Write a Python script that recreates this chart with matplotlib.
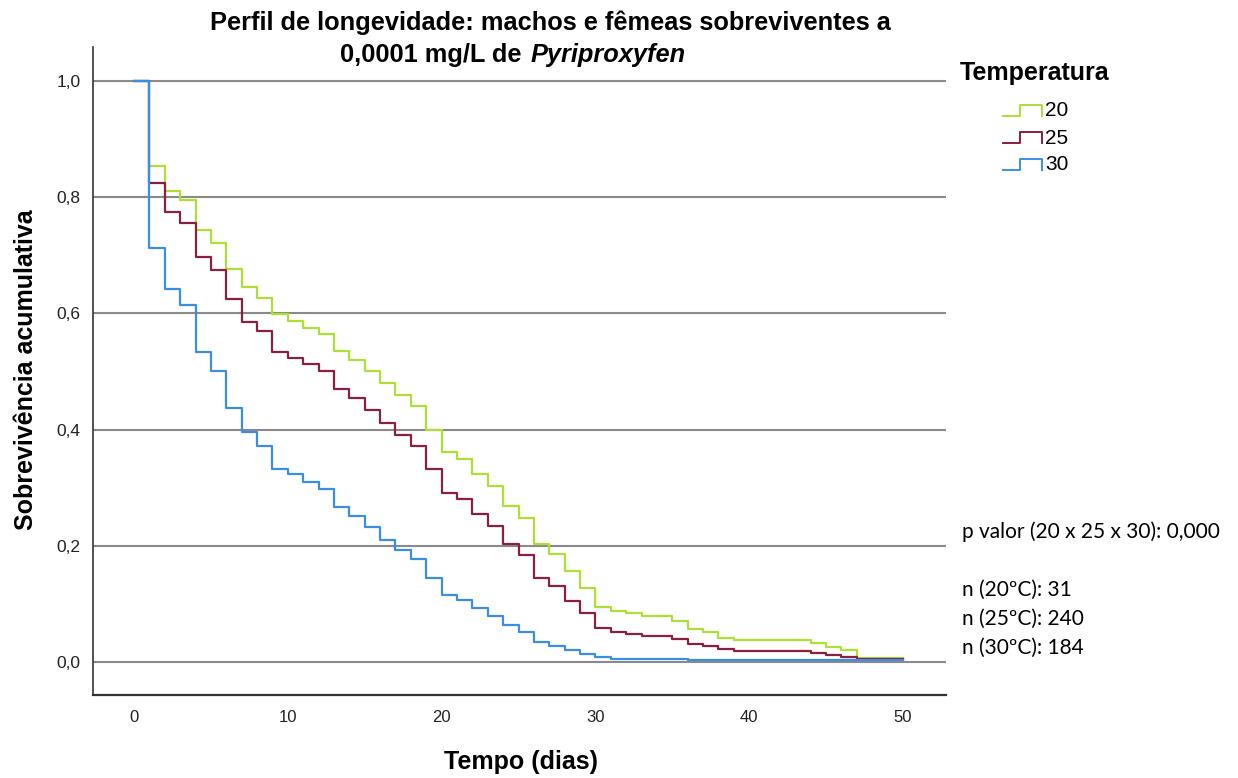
import numpy as np
import matplotlib
matplotlib.use("Agg")
import matplotlib.pyplot as plt
from matplotlib.lines import Line2D

plt.rcParams['font.family'] = ['Liberation Sans', 'DejaVu Sans']

# dias (inicio de cada intervalo) e sobrevivencia acumulada
dias = list(range(0, 51))

surv_20 = [1.0, 0.853, 0.810, 0.795, 0.744, 0.722, 0.677, 0.645, 0.627, 0.599,
           0.587, 0.575, 0.565, 0.535, 0.520, 0.501, 0.480, 0.459, 0.441, 0.400,
           0.362, 0.349, 0.323, 0.303, 0.268, 0.248, 0.203, 0.186, 0.157, 0.128,
           0.095, 0.087, 0.084, 0.079, 0.079, 0.071, 0.057, 0.052, 0.042, 0.038,
           0.038, 0.038, 0.038, 0.038, 0.032, 0.026, 0.021, 0.007, 0.007, 0.007,
           0.007]
surv_25 = [1.0, 0.824, 0.775, 0.756, 0.697, 0.675, 0.625, 0.586, 0.569, 0.534,
           0.523, 0.513, 0.500, 0.470, 0.454, 0.434, 0.411, 0.391, 0.371, 0.332,
           0.291, 0.280, 0.255, 0.234, 0.203, 0.184, 0.145, 0.130, 0.105, 0.084,
           0.058, 0.052, 0.048, 0.045, 0.045, 0.040, 0.031, 0.028, 0.022, 0.019,
           0.019, 0.019, 0.019, 0.019, 0.015, 0.012, 0.009, 0.005, 0.005, 0.005,
           0.005]
surv_30 = [1.0, 0.713, 0.642, 0.614, 0.533, 0.500, 0.437, 0.395, 0.371, 0.333,
           0.323, 0.310, 0.297, 0.267, 0.252, 0.233, 0.210, 0.193, 0.177, 0.145,
           0.115, 0.107, 0.093, 0.079, 0.064, 0.052, 0.035, 0.028, 0.021, 0.014,
           0.008, 0.006, 0.006, 0.006, 0.006, 0.006, 0.003, 0.003, 0.003, 0.003,
           0.003, 0.003, 0.003, 0.003, 0.003, 0.003, 0.003, 0.003, 0.003, 0.003,
           0.003]

grupos = ['20', '25', '30']
cores = ['#addf35', '#8a1f3f', '#3b8fe3']
series = [surv_20, surv_25, surv_30]

y_ticks = [0.0, 0.2, 0.4, 0.6, 0.8, 1.0]
y_labels = ['0,0', '0,2', '0,4', '0,6', '0,8', '1,0']
x_ticks = [0, 10, 20, 30, 40, 50]

notas = ['p valor (20 x 25 x 30): 0,000', '', 'n (20ºC): 31', 'n (25ºC): 240', 'n (30ºC): 184']

W, H = 1238, 778
fig = plt.figure(figsize=(W / 100, H / 100), dpi=100)
ax = fig.add_axes([93 / W, 1 - 695 / H, (946 - 93) / W, (695 - 47) / H])

for yt in y_ticks:
    ax.axhline(yt, color='#8a8a8a', lw=1.5, zorder=1)

for s, c in zip(series, cores):
    ax.step(dias, s, where='post', color=c, lw=1.6, zorder=3)

ax.set_xlim(-2.67, 52.8)
ax.set_ylim(-0.0568, 1.0585)
ax.set_xticks(x_ticks)
ax.set_xticklabels([str(t) for t in x_ticks])
ax.set_yticks(y_ticks)
ax.set_yticklabels(y_labels)
ax.tick_params(length=0, labelsize=12, colors='#222222')
ax.tick_params(axis='y', pad=9, labelsize=12.5)
ax.tick_params(axis='x', pad=11)
for sp in ['top', 'right']:
    ax.spines[sp].set_visible(False)
ax.spines['left'].set_color('#333333')
ax.spines['bottom'].set_color('#333333')
ax.spines['left'].set_linewidth(1.2)
ax.spines['bottom'].set_linewidth(1.6)

ax.set_xlabel('Tempo (dias)', fontsize=18, fontweight='bold', va='center')
ax.xaxis.set_label_coords((521 - 93) / 853, (695 - 762) / 648)
ax.set_ylabel('Sobrevivência acumulativa', fontsize=18, fontweight='bold', va='center')
ax.yaxis.set_label_coords((26 - 93) / 853, (695 - 370) / 648)

# titulo
fig.text(550 / W, 1 - 23 / H, 'Perfil de longevidade: machos e fêmeas sobreviventes a',
         ha='center', va='center', fontsize=18.3, fontweight='bold')
fig.text(529 / W, 1 - 55 / H, '0,0001 mg/L de ', ha='right', va='center',
         fontsize=18.3, fontweight='bold')
fig.text(531 / W, 1 - 55 / H, 'Pyriproxyfen', ha='left', va='center',
         fontsize=18.3, fontweight='bold', style='italic')

# legenda
fig.text(960 / W, 1 - 73 / H, 'Temperatura', ha='left', va='center',
         fontsize=18, fontweight='bold')
for i, (g, c) in enumerate(zip(grupos, cores)):
    yc = 111 + i * 27
    xs = np.array([1003, 1020, 1020, 1042, 1042]) / W
    ys = 1 - np.array([yc + 5, yc + 5, yc - 6, yc - 6, yc + 5]) / H
    fig.add_artist(Line2D(xs, ys, color=c, lw=1.4, transform=fig.transFigure))
    fig.text(1045 / W, 1 - yc / H, g, ha='left', va='center', fontsize=15)

# notas
for i, t in enumerate(notas):
    fig.text(962 / W, 1 - (532 + i * 29) / H, t, ha='left', va='center',
             fontsize=15, family=['Lato', 'DejaVu Sans'])

fig.savefig('out.png', dpi=100, facecolor='white')
